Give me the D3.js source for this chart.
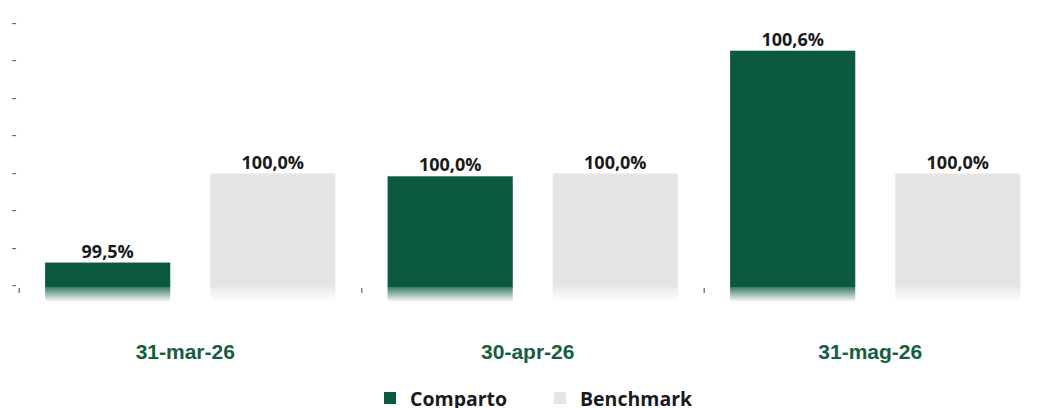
<!DOCTYPE html>
<html>
<head>
<meta charset="utf-8">
<script src="https://cdn.jsdelivr.net/npm/d3@7"></script>
<style>
  body { margin: 0; background: #fff; }
</style>
</head>
<body>
<div id="container"></div>
<script>
// data
let dates = ["31-mar-26", "30-apr-26", "31-mag-26"];
let series = ["Comparto", "Benchmark"];
let comparto = [99.525, 99.985, 100.655];
let benchmark = [100.0, 100.0, 100.0];
let compartoLabels = ["99,5%", "100,0%", "100,6%"];
let benchmarkLabels = ["100,0%", "100,0%", "100,0%"];
let yTicks = [99.4, 99.6, 99.8, 100.0, 100.2, 100.4, 100.6, 100.8];

let colorMap = {
    Comparto: "#0B5940",
    Benchmark: "#E5E5E5"
}

let w = 1040;
let h = 408;

let viz = d3.select("#container")
  .append("svg")
  .attr("width", w)
  .attr("height", h)
  .style("background-color", "#fff");

let rows = [];
dates.forEach((d, i) => {
    rows.push({date: d, series: "Comparto", value: comparto[i], label: compartoLabels[i]});
    rows.push({date: d, series: "Benchmark", value: benchmark[i], label: benchmarkLabels[i]});
});

let xScale = d3.scaleBand()
    .domain(dates)
    .range([19, 1046.5]);

let x1 = d3.scaleBand()
    .domain(series)
    .range([0, xScale.bandwidth()])
    .paddingInner(0.242)
    .paddingOuter(0.158);

let yScale = d3.scaleLinear()
    .domain([99.4, 100.8])
    .range([286, 23.5]);

let base = yScale(99.4);

// fade at the bottom of the bars
let defs = viz.append("defs");
series.forEach(s => {
    let g = defs.append("linearGradient")
        .attr("id", "fade-" + s)
        .attr("x1", 0).attr("x2", 0).attr("y1", 0).attr("y2", 1);
    g.append("stop").attr("offset", "0%").attr("stop-color", colorMap[s]).attr("stop-opacity", 0.8);
    g.append("stop").attr("offset", "100%").attr("stop-color", colorMap[s]).attr("stop-opacity", 0);
});

// y-axis "-" labels
viz.selectAll(".ytick")
    .data(yTicks)
    .enter()
    .append("text")
    .attr("x", 14)
    .attr("y", d => yScale(d) + 4)
    .attr("text-anchor", "middle")
    .style("font-family", "Liberation Sans, Arial")
    .style("font-size", "14px")
    .style("fill", "#595959")
    .text("-");

// small category ticks
viz.selectAll(".xtick")
    .data(dates)
    .enter()
    .append("rect")
    .attr("x", d => xScale(d) - 0.5)
    .attr("y", 288)
    .attr("width", 1.5)
    .attr("height", 5)
    .attr("fill", "#7f7f7f");

// bars
viz.selectAll(".bar")
    .data(rows)
    .enter()
    .append("rect")
    .attr("x", d => xScale(d.date) + x1(d.series))
    .attr("y", d => yScale(d.value))
    .attr("width", x1.bandwidth())
    .attr("height", d => base + 1 - yScale(d.value))
    .attr("fill", d => colorMap[d.series]);

viz.selectAll(".bar-fade")
    .data(rows)
    .enter()
    .append("rect")
    .attr("x", d => xScale(d.date) + x1(d.series))
    .attr("y", base + 1)
    .attr("width", x1.bandwidth())
    .attr("height", 15)
    .attr("fill", d => "url(#fade-" + d.series + ")");

// value labels
viz.selectAll(".value")
    .data(rows)
    .enter()
    .append("text")
    .attr("x", d => xScale(d.date) + x1(d.series) + x1.bandwidth() / 2)
    .attr("y", d => yScale(d.value) - 5)
    .attr("text-anchor", "middle")
    .style("font-family", "Open Sans, sans-serif")
    .style("font-weight", "bold")
    .style("font-size", "18px")
    .style("fill", "#1a1a1a")
    .text(d => d.label);

// category labels
viz.selectAll(".cat")
    .data(dates)
    .enter()
    .append("text")
    .attr("x", d => xScale(d) + xScale.bandwidth() / 2 - 5)
    .attr("y", 359)
    .attr("text-anchor", "middle")
    .style("font-family", "Liberation Sans, Arial")
    .style("font-weight", "bold")
    .style("font-size", "21px")
    .style("fill", "#155E40")
    .text(d => d);

// legend
let legendX = [384, 554];
let legend = viz.selectAll(".legend")
    .data(series)
    .enter()
    .append("g")
    .attr("transform", (d, i) => `translate(${legendX[i]}, 392)`);

legend.append("rect")
    .attr("width", 12)
    .attr("height", 12)
    .attr("fill", d => colorMap[d]);

legend.append("text")
    .attr("x", 26)
    .attr("y", 14)
    .style("font-family", "Open Sans, sans-serif")
    .style("font-weight", "bold")
    .style("font-size", "19.5px")
    .style("fill", "#1a1a1a")
    .text(d => d);
</script>
</body>
</html>
